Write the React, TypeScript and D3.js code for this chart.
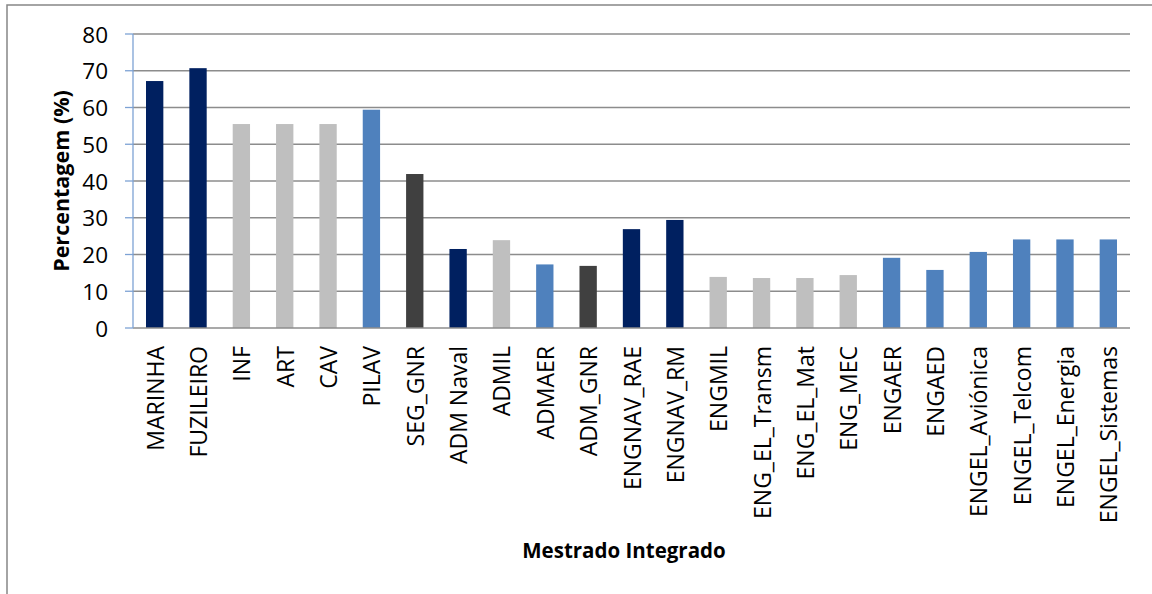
import React from "react";
import * as d3 from "d3";

const categories = [
  "MARINHA", "FUZILEIRO", "INF", "ART", "CAV", "PILAV", "SEG_GNR", "ADM Naval",
  "ADMIL", "ADMAER", "ADM_GNR", "ENGNAV_RAE", "ENGNAV_RM", "ENGMIL",
  "ENG_EL_Transm", "ENG_EL_Mat", "ENG_MEC", "ENGAER", "ENGAED",
  "ENGEL_Aviónica", "ENGEL_Telcom", "ENGEL_Energia", "ENGEL_Sistemas",
];
const values = [
  67.2, 70.7, 55.5, 55.5, 55.5, 59.4, 41.9, 21.5, 23.9, 17.3, 16.9, 26.9, 29.4,
  13.9, 13.6, 13.6, 14.4, 19.1, 15.8, 20.7, 24.1, 24.1, 24.1,
];
const groups = [
  "navy", "navy", "gray", "gray", "gray", "blue", "dark", "navy", "gray", "blue",
  "dark", "navy", "navy", "gray", "gray", "gray", "gray", "blue", "blue", "blue",
  "blue", "blue", "blue",
];
const yTicks = [0, 10, 20, 30, 40, 50, 60, 70, 80];

const colorMap: Record<string, string> = {
  navy: "#002060",
  gray: "#BFBFBF",
  blue: "#4F81BD",
  dark: "#404040",
};

const W = 1152;
const H = 594;
const FONT = "'Open Sans', Lato, sans-serif";

export default function App() {
  const left = 133, right = 1130, top = 34, bottom = 328;
  const x = d3.scaleBand<string>().domain(categories).range([left, right]).paddingInner(0.6).paddingOuter(0.3);
  const y = d3.scaleLinear().domain([0, 80]).range([bottom, top]);

  return (
    <svg width={W} height={H} style={{ position: "absolute", left: 0, top: 0, background: "#fff" }}>
      <rect x={7} y={5} width={1170} height={620} fill="#fff" stroke="#868686" strokeWidth={1.5} />
      {yTicks.map((t) => (
        <g key={t}>
          {t > 0 && (
            <line x1={left} x2={right} y1={y(t)} y2={y(t)} stroke="#8C8C8C" strokeWidth={1.3} />
          )}
          <line x1={left - 8} x2={left} y1={y(t)} y2={y(t)} stroke="#7DA2D4" strokeWidth={1.3} />
          <text x={108} y={y(t)} textAnchor="end" dominantBaseline="central" fontFamily={FONT} fontSize={22.5} fill="#000">
            {t}
          </text>
        </g>
      ))}
      {categories.map((c, i) => (
        <rect
          key={c}
          x={x(c)}
          y={y(values[i])}
          width={x.bandwidth()}
          height={y(0) - y(values[i])}
          fill={colorMap[groups[i]]}
        />
      ))}
      <line x1={left} x2={right} y1={y(0)} y2={y(0)} stroke="#8C8C8C" strokeWidth={1.3} />
      <line x1={left} x2={left} y1={y(80)} y2={y(0)} stroke="#7DA2D4" strokeWidth={1.3} />
      {categories.map((c) => {
        const cx = (x(c) as number) + x.bandwidth() / 2;
        return (
          <text
            key={c}
            transform={`translate(${cx},346) rotate(-90)`}
            textAnchor="end"
            dominantBaseline="central"
            fontFamily={FONT}
            fontSize={23}
            fill="#000"
          >
            {c}
          </text>
        );
      })}
      <text
        transform={`translate(60,${(top + bottom) / 2}) rotate(-90)`}
        textAnchor="middle"
        dominantBaseline="central"
        fontFamily={FONT}
        fontSize={21.5}
        fontWeight="bold"
        fill="#000"
      >
        Percentagem (%)
      </text>
      <text
        x={624}
        y={550}
        textAnchor="middle"
        dominantBaseline="central"
        fontFamily={FONT}
        fontSize={20.5}
        fontWeight="bold"
        fill="#000"
      >
        Mestrado Integrado
      </text>
    </svg>
  );
}
